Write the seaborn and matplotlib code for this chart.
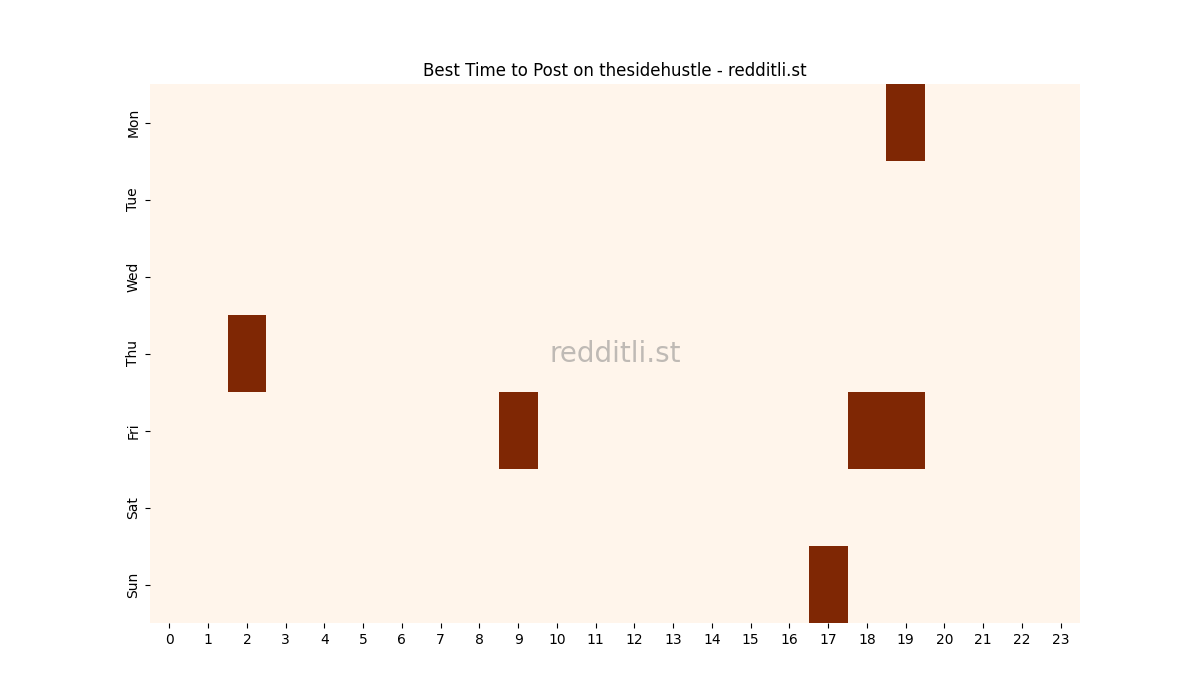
import matplotlib
matplotlib.use("Agg")
import matplotlib.pyplot as plt
import numpy as np
import pandas as pd
import seaborn as sns

days = ["Mon", "Tue", "Wed", "Thu", "Fri", "Sat", "Sun"]
hours = list(range(24))
# (day, hour) slots marked as best time to post
best_slots = [("Mon", 19), ("Thu", 2), ("Fri", 9), ("Fri", 18), ("Fri", 19), ("Sun", 17)]

grid = pd.DataFrame(0, index=days, columns=hours)
for day, hour in best_slots:
    grid.loc[day, hour] = 1

fig = plt.figure(figsize=(12, 7), dpi=100)
ax = sns.heatmap(grid, cmap="Oranges", cbar=False)
ax.set_title("Best Time to Post on thesidehustle - redditli.st")
ax.set_yticklabels(days, rotation=90, va="center")
ax.set_xticklabels(hours, rotation=0)
ax.text(0.5, 0.5, "redditli.st", transform=ax.transAxes, fontsize=20,
        color="gray", alpha=0.5, ha="center", va="center")

fig.savefig("out.png")
